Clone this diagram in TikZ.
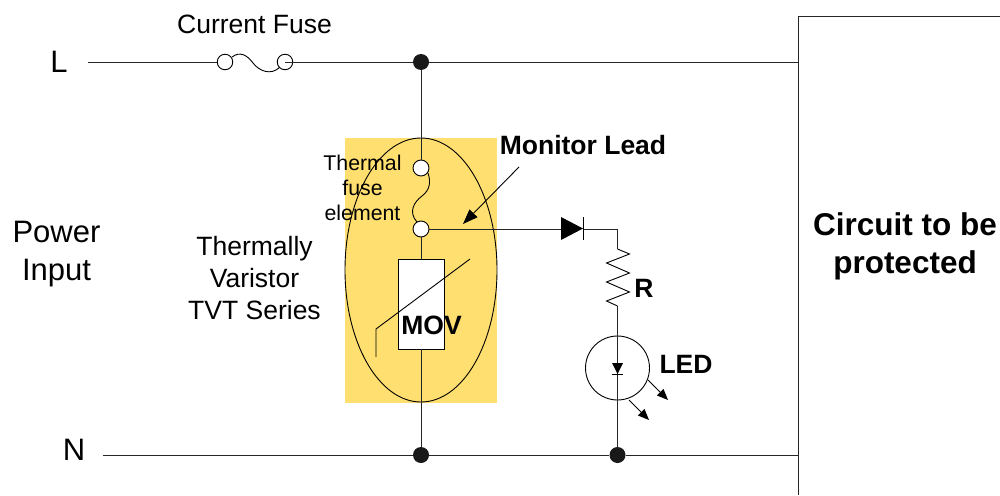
\documentclass[tikz,border=0pt]{standalone}
\usepackage{fontspec}
\setmainfont{Liberation Sans}
\usetikzlibrary{shapes.geometric, arrows.meta, positioning}
\definecolor{tvtyellow}{HTML}{FFDF70}
\tikzstyle{wire} = [line width=1pt, draw=black!85]
\tikzstyle{thin_wire} = [line width=0.9pt, draw=black]
\tikzstyle{arrow} = [line width=0.9pt,-{Stealth[length=15pt,width=11pt,inset=0pt]}]
\tikzstyle{small_arrow} = [line width=0.9pt,-{Stealth[length=11pt,width=9pt,inset=0pt]}]
\tikzstyle{joint} = [circle, minimum size=16pt, inner sep=0pt, fill=black!90]
\tikzstyle{fuse_end} = [circle, minimum size=15.5pt, inner sep=0pt, line width=0.9pt, draw=black, fill=white]
\tikzstyle{fuse_pin} = [circle, minimum size=16pt, inner sep=0pt, line width=0.9pt, draw=black, fill=white]
\tikzstyle{tvt_body} = [ellipse, minimum width=152pt, minimum height=264pt, inner sep=0pt, line width=0.9pt, draw=black]
\tikzstyle{mov} = [rectangle, minimum width=46pt, minimum height=90pt, inner sep=0pt, line width=0.9pt, draw=black, fill=white]
\tikzstyle{led} = [circle, minimum size=64pt, inner sep=0pt, line width=0.9pt, draw=black]
\tikzstyle{big_label} = [align=center, inner sep=0pt, font=\fontsize{31}{38}\selectfont]
\tikzstyle{label} = [align=center, inner sep=0pt, font=\fontsize{26.5}{32}\selectfont]
\tikzstyle{small_label} = [align=center, inner sep=0pt, font=\fontsize{21.3}{25}\selectfont]
\tikzstyle{bold_label} = [align=center, inner sep=0pt, font=\fontsize{26.5}{32}\selectfont\bfseries]
\tikzstyle{box_label} = [align=center, inner sep=0pt, font=\fontsize{31.5}{37.5}\selectfont\bfseries]
\begin{document}
\begin{tikzpicture}[x=1pt, y=-1pt, on grid, node distance=60pt]
        \useasboundingbox (0,0) rectangle (1000,495);
        \fill [tvtyellow] (345,138) rectangle (497,403);
        \node (tvt_body) [tvt_body] at (421,270) {};

        \node (top_joint) [joint] at (421,62) {};
        \node (bottom_joint) [joint] at (421,455) {};
        \node (led_joint) [joint, right=196.5pt of bottom_joint] {};
        \node (fuse_left) [fuse_end] at (225,62) {};
        \node (fuse_right) [fuse_end, right=of fuse_left] {};
        \node (pin_top) [fuse_pin, below=106pt of top_joint] {};
        \node (pin_bottom) [fuse_pin, below=61pt of pin_top] {};
        \node (mov) [mov, below=75pt of pin_bottom] {};
        \node (led) [led] at (617.5,368) {};

        \coordinate (l_in) at (88,62);
        \coordinate (l_out) at (798,62);
        \coordinate (n_in) at (103,455);
        \coordinate (n_out) at (798,455);
        \coordinate (box_corner) at (798,17);
        \coordinate (box_right) at (1000,17);
        \coordinate (box_bottom) at (798,495);
        \coordinate (diode_in) at (561,229);
        \coordinate (diode_out) at (584,229);
        \coordinate (res_corner) at (617.5,229);
        \coordinate (res_top) at (617.5,249);
        \coordinate (res_bottom) at (617.5,306);

        \draw [wire] (l_in) -- (fuse_left);
        \draw [wire] (fuse_right.center) -- (top_joint);
        \draw [wire] (top_joint) -- (l_out);
        \draw [wire] (n_in) -- (bottom_joint);
        \draw [wire] (bottom_joint) -- (led_joint);
        \draw [wire] (led_joint) -- (n_out);
        \draw [wire] (top_joint) -- (pin_top);
        \draw [wire] (pin_bottom) -- (mov);
        \draw [wire] (mov) -- (bottom_joint);
        \draw [wire] (pin_bottom) -- (diode_in);
        \draw [wire] (diode_out) -- (res_corner) -- (res_top);
        \draw [wire] (res_bottom) -- (led_joint);
        \draw [thin_wire] (res_top) -- ++(12,5) -- ++(-23,9) -- ++(23,10) -- ++(-23,9) -- ++(23,10) -- ++(-23,9) -- (res_bottom);
        \draw [wire] (box_right) -- (box_corner) -- (box_bottom);

        % fuses
        \draw [thin_wire] (232,57) .. controls (240,51) and (247,55) .. (253,63) .. controls (259,71) and (271,76) .. (280,67);
        \draw [thin_wire] (428,173) .. controls (431,182) and (430,190) .. (422,196) .. controls (414,202) and (408,212) .. (417,222);

        % varistor
        \draw [thin_wire] (470,259) -- (376,329) -- (376,357);

        % diode and led
        \fill (561,217) -- (583,228.5) -- (561,240) -- cycle;
        \draw [thin_wire] (583.5,217) -- (583.5,240);
        \fill (612,363) -- (623,363) -- (617.5,374) -- cycle;
        \draw [thin_wire] (612,374) -- (623,374);
        \draw [small_arrow] (648,380) -- (668,400);
        \draw [small_arrow] (629,400) -- (649,420);
        \draw [arrow] (519,167) -- (463,224);

        \node (fuse_label) [label] at (254.5,24) {Current Fuse};
        \node (l_label) [big_label] at (59,62) {L};
        \node (n_label) [big_label] at (74,450) {N};
        \node (power_label) [big_label] at (56.5,254.5) {Power\\Input};
        \node (tvt_label) [label] at (254.5,278) {Thermally\\Varistor\\TVT Series};
        \node (element_label) [small_label] at (362.5,188) {Thermal\\fuse\\element};
        \node (monitor_label) [bold_label] at (583,145) {Monitor Lead};
        \node (mov_label) [bold_label] at (431.5,325) {MOV};
        \node (r_label) [bold_label] at (644,288) {R};
        \node (led_label) [bold_label] at (686,364) {LED};
        \node (circuit_label) [box_label] at (905,246.5) {Circuit to be\\protected};
\end{tikzpicture}
\end{document}
